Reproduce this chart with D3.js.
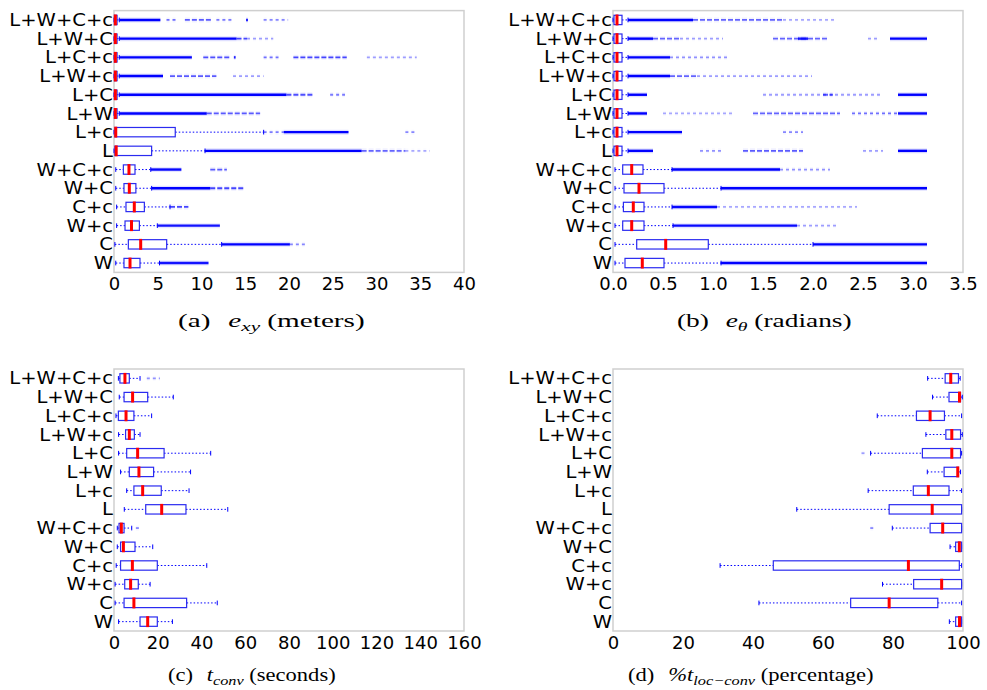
<!DOCTYPE html>
<html>
<head>
<meta charset="utf-8">
<script src="https://cdn.jsdelivr.net/npm/d3@7"></script>
<style>
  body { margin: 0; background: #fff; }
  svg { display: block; }
</style>
</head>
<body>
<svg id="fig" width="987" height="690"></svg>
<script>
// Sensor configurations, listed top row first
const categories = ["L+W+C+c", "L+W+C", "L+C+c", "L+W+c", "L+C", "L+W", "L+c", "L",
                    "W+C+c", "W+C", "C+c", "W+c", "C", "W"];

// Box statistics per configuration: [whisker low, q1, median, q3, whisker high]
const exyStats = [
  [0.0, 0.05, 0.15, 0.35, 0.6], [0.0, 0.05, 0.15, 0.35, 0.6], [0.0, 0.05, 0.15, 0.35, 0.6],
  [0.0, 0.05, 0.15, 0.35, 0.6], [0.0, 0.05, 0.15, 0.35, 0.6], [0.0, 0.05, 0.15, 0.35, 0.6],
  [0.0, 0.1, 0.2, 7.0, 17.1], [0.0, 0.1, 0.25, 4.3, 10.4],
  [0.2, 1.07, 1.71, 2.4, 4.2], [0.2, 1.14, 1.75, 2.5, 4.3], [0.3, 1.37, 2.32, 3.47, 6.4],
  [0.3, 1.26, 2.0, 2.9, 4.95], [0.1, 1.64, 3.05, 6.02, 12.3], [0.2, 1.14, 1.83, 2.97, 5.2]
];
// Outlier runs per configuration: [from, to, density]
const exyOutliers = [
  [[0.6, 5.3, 1], [6.0, 7.2, 0.4], [8.1, 11.3, 0.5], [11.7, 13.6, 0.35], [15.1, 15.3, 0.9], [17.1, 19.9, 0.3]],
  [[0.6, 14.0, 1], [14.0, 15.2, 0.6], [15.2, 18.2, 0.2]],
  [[0.6, 8.9, 1], [10.2, 13.3, 0.55], [13.7, 13.9, 0.8], [17.1, 18.8, 0.4], [20.5, 26.6, 0.6], [28.9, 34.6, 0.2]],
  [[0.6, 5.6, 1], [6.4, 11.7, 0.5], [13.6, 17.1, 0.2]],
  [[0.6, 19.7, 1], [19.7, 22.8, 0.55], [24.7, 26.4, 0.35]],
  [[0.6, 10.6, 1], [10.6, 16.7, 0.5]],
  [[17.1, 19.4, 0.35], [19.4, 26.8, 1], [33.3, 34.6, 0.3]],
  [[10.4, 28.3, 1], [28.3, 33.3, 0.45], [33.3, 36.1, 0.15]],
  [[4.2, 7.7, 0.9], [11.0, 12.9, 0.5]],
  [[4.3, 11.0, 1], [11.0, 15.0, 0.6]],
  [[6.4, 8.5, 0.6]],
  [[4.95, 12.1, 0.85]],
  [[12.3, 20.1, 1], [20.1, 22.0, 0.3]],
  [[5.2, 10.8, 0.85]]
];

const ethetaStats = [
  [0.0, 0.01, 0.04, 0.09, 0.15], [0.0, 0.01, 0.04, 0.09, 0.15], [0.0, 0.01, 0.04, 0.09, 0.15],
  [0.0, 0.01, 0.04, 0.09, 0.15], [0.0, 0.01, 0.04, 0.09, 0.15], [0.0, 0.01, 0.04, 0.09, 0.15],
  [0.0, 0.01, 0.04, 0.09, 0.15], [0.0, 0.01, 0.04, 0.09, 0.15],
  [0.02, 0.097, 0.187, 0.30, 0.59], [0.02, 0.11, 0.26, 0.51, 1.08], [0.02, 0.104, 0.203, 0.31, 0.59],
  [0.02, 0.097, 0.187, 0.31, 0.60], [0.02, 0.237, 0.527, 0.953, 2.0], [0.02, 0.12, 0.293, 0.51, 1.08]
];
const ethetaOutliers = [
  [[0.15, 0.8, 1], [0.8, 1.7, 0.45], [1.7, 2.24, 0.15]],
  [[0.15, 0.4, 1], [0.4, 0.67, 0.45], [0.67, 1.1, 0.2], [1.6, 2.15, 0.45], [1.85, 1.95, 0.8], [2.55, 2.65, 0.2], [2.77, 3.14, 1]],
  [[0.15, 0.57, 1], [0.57, 1.14, 0.25]],
  [[0.15, 0.57, 1], [0.57, 0.84, 0.45], [0.84, 1.99, 0.2]],
  [[0.15, 0.34, 1], [1.5, 2.7, 0.2], [2.1, 2.2, 0.5], [2.85, 3.14, 1]],
  [[0.15, 0.34, 1], [0.5, 1.2, 0.15], [1.4, 2.27, 0.45], [2.39, 2.85, 0.4], [2.85, 3.14, 0.9]],
  [[0.15, 0.69, 1], [1.7, 1.9, 0.3]],
  [[0.15, 0.40, 1], [0.87, 1.1, 0.25], [1.3, 1.9, 0.5], [2.5, 2.7, 0.2], [2.85, 3.14, 1]],
  [[0.59, 1.67, 1], [1.67, 2.17, 0.25]],
  [[1.08, 3.14, 1]],
  [[0.59, 1.04, 0.9], [1.04, 2.44, 0.15]],
  [[0.60, 1.84, 0.9], [1.84, 2.24, 0.2]],
  [[2.0, 3.14, 1]],
  [[1.08, 3.14, 1]]
];

const tconvStats = [
  [2.0, 2.7, 5.0, 7.0, 11.9], [2.4, 4.6, 8.5, 15.4, 27.1], [0.9, 2.0, 5.5, 9.1, 17.2],
  [2.1, 5.3, 7.0, 9.3, 11.9], [2.1, 5.8, 10.8, 22.9, 44.2], [3.0, 7.0, 11.4, 18.1, 35.0],
  [5.8, 9.1, 13.1, 21.6, 34.3], [4.7, 14.5, 21.8, 32.9, 52.0],
  [1.5, 2.3, 3.35, 4.6, 8.1], [1.5, 3.0, 4.3, 9.6, 17.7], [1.0, 3.0, 8.4, 19.8, 42.4],
  [0.5, 4.9, 7.6, 11.1, 16.5], [0.5, 4.6, 9.1, 33.2, 47.2], [2.1, 11.9, 15.4, 19.8, 26.7]
];
const tconvOutliers = [
  [[15, 21, 0.25]], [], [], [], [], [], [], [],
  [[10, 12, 0.3]], [], [], [], [], []
];

const locStats = [
  [89.9, 94.9, 96.5, 98.7, 99.2], [91.3, 96.0, 99.0, 99.3, 99.8], [75.5, 86.7, 90.6, 94.7, 99.6],
  [89.4, 95.1, 96.8, 99.3, 99.8], [73.6, 88.4, 96.8, 99.3, 99.6], [89.8, 94.6, 98.5, 98.7, 99.3],
  [72.9, 85.8, 90.1, 96.0, 99.6], [52.5, 78.9, 91.2, 99.6, 99.6],
  [79.8, 90.6, 94.2, 99.6, 99.6], [96.3, 97.9, 98.95, 99.6, 99.6], [30.6, 45.8, 84.4, 98.95, 99.6],
  [77.0, 85.9, 93.9, 99.6, 99.6], [41.7, 67.9, 78.9, 92.8, 99.6], [96.1, 97.9, 99.0, 99.6, 99.6]
];
const locOutliers = [
  [], [], [], [], [[71.0, 72.0, 0.2]], [], [], [],
  [[73.5, 74.5, 0.3]], [], [], [], [], []
];

// Axis tick values
const exyTicks = [0, 5, 10, 15, 20, 25, 30, 35, 40];
const ethetaTicks = [0, 0.5, 1.0, 1.5, 2.0, 2.5, 3.0, 3.5];
const tconvTicks = [0, 20, 40, 60, 80, 100, 120, 140, 160];
const locTicks = [0, 20, 40, 60, 80, 100];

// Sub-figure captions: [text, style] runs
const exyCaption = [["(a)", ""], ["e", "it"], ["xy", "itsub"], [" (meters)", ""]];
const ethetaCaption = [["(b)", ""], ["e", "it"], ["θ", "itsub"], [" (radians)", ""]];
const tconvCaption = [["(c)", ""], ["t", "it"], ["conv", "itsub"], [" (seconds)", ""]];
const locCaption = [["(d)", ""], ["%t", "it"], ["loc−conv", "itsub"], [" (percentage)", ""]];

const panels = [
  { stats: exyStats, outliers: exyOutliers, domain: [0, 40], ticks: exyTicks, fmt: d3.format("d"),
    x0: 114, x1: 464, top: 10.6, bottom: 272.4, caption: exyCaption, capX: 178, capW: 169, capY: 327 },
  { stats: ethetaStats, outliers: ethetaOutliers, domain: [0, 3.5], ticks: ethetaTicks, fmt: d3.format(".1f"),
    x0: 613, x1: 963, top: 10.6, bottom: 272.4, caption: ethetaCaption, capX: 677, capW: 158, capY: 327 },
  { stats: tconvStats, outliers: tconvOutliers, domain: [0, 160], ticks: tconvTicks, fmt: d3.format("d"),
    x0: 114, x1: 464, top: 369, bottom: 631, caption: tconvCaption, capX: 168, capW: 154, capY: 681 },
  { stats: locStats, outliers: locOutliers, domain: [0, 100], ticks: locTicks, fmt: d3.format("d"),
    x0: 613, x1: 963, top: 369, bottom: 631, caption: locCaption, capX: 628, capW: 232, capY: 681 }
];

const BLUE = "#0000ff";
const BOX_BLUE = "#2b2bf0";
const RED = "#ff0000";
const labelScaleX = 1.15;

const svg = d3.select("#fig");

function drawPanel(p) {
  const g = svg.append("g");
  const x = d3.scaleLinear().domain(p.domain).range([p.x0, p.x1]);
  const y = d3.scaleBand().domain(categories).range([p.top, p.bottom]);
  const cy = c => y(c) + y.bandwidth() / 2;
  const bh = y.bandwidth() * 0.5;

  // plot frame
  g.append("rect")
    .attr("x", p.x0).attr("y", p.top)
    .attr("width", p.x1 - p.x0).attr("height", p.bottom - p.top)
    .attr("fill", "#fff").attr("stroke", "#cfcfcf").attr("stroke-width", 1.5);

  const rows = g.selectAll("g.row")
    .data(categories.map((c, i) => ({ c, s: p.stats[i], o: p.outliers[i] })))
    .join("g").attr("class", "row");

  // outlier markers: dense runs of '+' fliers read as a solid bar,
  // sparse runs as broken dashes
  const dash = o => o[2] >= 0.8 ? null : (o[2] >= 0.45 ? "5,2" : "3,3");
  rows.each(function(d) {
    const r = d3.select(this);
    const yy = cy(d.c);
    r.selectAll("line.halo").data(d.o).join("line").attr("class", "halo")
      .attr("x1", o => x(o[0])).attr("x2", o => x(o[1]))
      .attr("y1", yy).attr("y2", yy)
      .attr("stroke", BLUE).attr("stroke-width", 5)
      .attr("stroke-dasharray", dash)
      .attr("stroke-opacity", o => 0.12 * o[2]);
    r.selectAll("line.core").data(d.o).join("line").attr("class", "core")
      .attr("x1", o => x(o[0])).attr("x2", o => x(o[1]))
      .attr("y1", yy).attr("y2", yy)
      .attr("stroke", BLUE).attr("stroke-width", o => o[2] >= 0.8 ? 2.4 : 1.8)
      .attr("stroke-dasharray", dash)
      .attr("stroke-opacity", o => Math.min(1, 0.2 + 0.85 * o[2]));
  });

  // whiskers
  rows.append("line")
    .attr("x1", d => x(d.s[0])).attr("x2", d => x(d.s[1]))
    .attr("y1", d => cy(d.c)).attr("y2", d => cy(d.c))
    .attr("stroke", BLUE).attr("stroke-width", 1).attr("stroke-dasharray", "1.5,2");
  rows.append("line")
    .attr("x1", d => x(d.s[3])).attr("x2", d => x(d.s[4]))
    .attr("y1", d => cy(d.c)).attr("y2", d => cy(d.c))
    .attr("stroke", BLUE).attr("stroke-width", 1).attr("stroke-dasharray", "1.5,2");

  // caps
  [0, 4].forEach(k => {
    rows.append("line")
      .attr("x1", d => x(d.s[k])).attr("x2", d => x(d.s[k]))
      .attr("y1", d => cy(d.c) - bh / 4).attr("y2", d => cy(d.c) + bh / 4)
      .attr("stroke", BLUE).attr("stroke-width", 1);
  });

  // boxes
  rows.append("rect")
    .attr("x", d => x(d.s[1])).attr("width", d => Math.max(0.5, x(d.s[3]) - x(d.s[1])))
    .attr("y", d => cy(d.c) - bh / 2).attr("height", bh)
    .attr("fill", "none").attr("stroke", BOX_BLUE).attr("stroke-width", 1.2);

  // medians
  rows.append("line")
    .attr("x1", d => x(d.s[2])).attr("x2", d => x(d.s[2]))
    .attr("y1", d => cy(d.c) - bh / 2 - 0.8).attr("y2", d => cy(d.c) + bh / 2 + 0.8)
    .attr("stroke", RED).attr("stroke-width", 3);

  // x axis
  const ax = g.append("g").attr("transform", `translate(0,${p.bottom})`)
    .call(d3.axisBottom(x).tickValues(p.ticks).tickFormat(p.fmt).tickSize(0).tickPadding(5));
  ax.select(".domain").remove();
  ax.selectAll("text").attr("font-family", "DejaVu Sans").attr("font-size", 18).attr("fill", "#000");

  // y axis with configuration names
  const ay = g.append("g").attr("transform", `translate(${p.x0},0)`)
    .call(d3.axisLeft(y).tickSize(0).tickPadding(0));
  ay.select(".domain").remove();
  ay.selectAll("text")
    .attr("font-family", "DejaVu Sans").attr("font-size", 17).attr("fill", "#000")
    .attr("x", 0).attr("dy", "0.36em")
    .attr("transform", `translate(-1,0) scale(${labelScaleX},1)`);

  // caption
  const cap = svg.append("text")
    .attr("font-family", "Liberation Serif").attr("font-size", 18).attr("fill", "#000");
  p.caption.forEach(([t, st], i) => {
    const ts = cap.append("tspan").text(t);
    if (st === "it" || st === "itsub") ts.attr("font-style", "italic");
    if (i === 1) ts.attr("dx", 11);
    if (st === "itsub") ts.attr("font-size", 13).attr("dy", 4);
    if (i > 0 && p.caption[i - 1][1] === "itsub") ts.attr("dy", -4);
  });
  const w = cap.node().getComputedTextLength();
  const sx = p.capW / w;
  cap.attr("transform", `translate(${p.capX},${p.capY}) scale(${sx},1)`);
}

panels.forEach(drawPanel);
</script>
</body>
</html>
